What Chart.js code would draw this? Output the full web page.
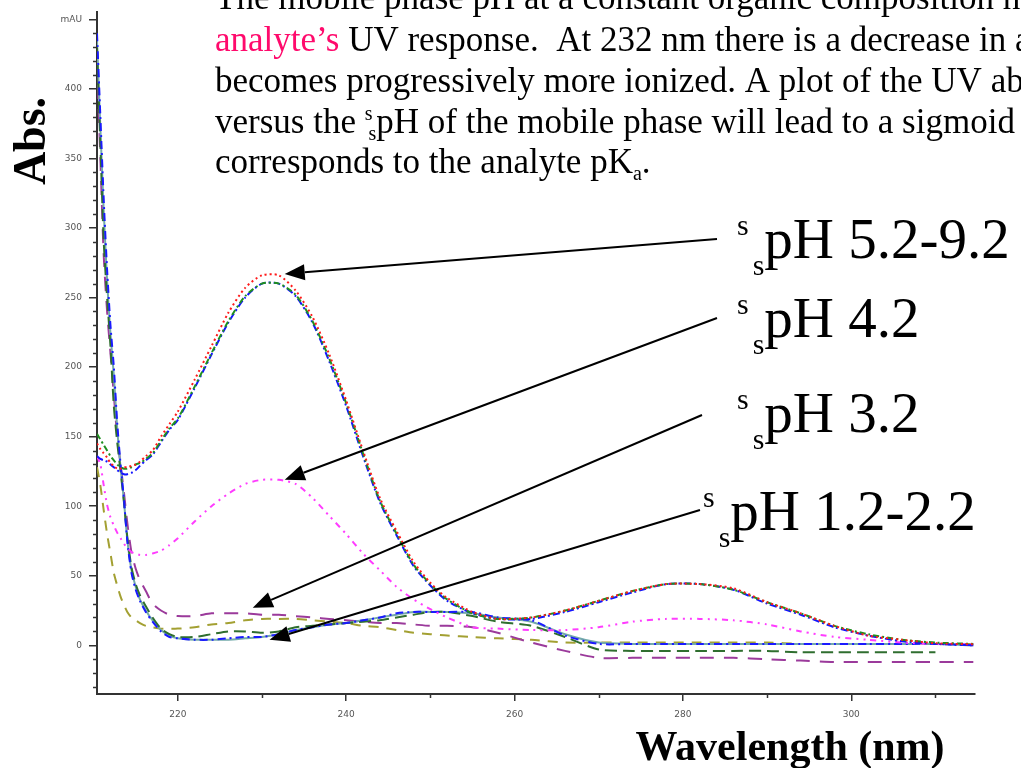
<!DOCTYPE html>
<html>
<head>
<meta charset="utf-8">
<script src="https://cdn.jsdelivr.net/npm/chart.js@4.4.1/dist/chart.umd.min.js"></script>
<style>
  html, body { margin: 0; padding: 0; background: #fff; overflow: hidden; }
  #wrap { width: 1021px; height: 768px; position: relative; }
</style>
</head>
<body>
<div id="wrap"><canvas id="uvChart" width="1021" height="768"></canvas></div>
<script>
// Wavelength grid (nm), finer at the short-wavelength end where the spectra fall steeply
const wavelengths = [
  210.4, 210.8, 211.2, 211.6, 212.0, 212.4, 212.8, 213.2, 213.6, 214.0,
  214.5, 215.0, 215.5, 216.2, 217, 218, 219, 220, 222, 224,
  226, 228, 230, 232, 234, 236, 238, 240, 242, 244,
  246, 248, 250, 252, 255, 258, 262, 266, 270, 274,
  278, 282, 286, 290, 294, 298, 302, 306, 310, 314.5
];

// Absorbance (mAU) for each run
const absRed = [
  145, 141, 138, 135, 131, 129, 127, 127, 128, 128,
  129, 130, 132, 136, 140, 150, 159, 168, 191, 215,
  239, 257, 266, 266, 255, 236, 209, 176, 140, 106,
  82, 60, 45, 34, 24, 19, 20, 25, 32, 39,
  44, 44, 41, 31, 23, 14, 7, 4, 1.5, 0.7
];
const absGreenHigh = [
  152, 148, 144, 140, 136, 133, 130, 128, 127, 127,
  128, 130, 131, 134, 138, 147, 156, 163, 186, 210,
  233, 251, 260, 260, 252, 233, 206, 174, 138, 104,
  80, 58, 44, 33, 23, 19, 20, 25, 32, 39,
  44, 44, 40, 31, 23, 14, 8, 4, 2, 1
];
const absBlueHigh = [
  136, 134, 133, 132, 130, 128, 126, 124, 123, 123,
  124, 126, 129, 133, 137, 146, 155, 162, 185, 209,
  232, 250, 260, 260, 251, 232, 204, 172, 136, 103,
  79, 57, 43, 32, 23, 19, 19, 24, 31, 38,
  44, 44, 40, 30, 22, 13, 7, 3, 1, 0
];
const absMagenta = [
  136, 130, 115, 101, 92, 86, 81, 77, 73, 70,
  67, 66, 65, 65, 66, 68, 72, 77, 89, 100,
  109, 116, 119, 119, 116, 106, 93, 80, 66, 54,
  42, 33, 26, 20, 13, 12, 11, 11, 13, 17,
  19, 19, 18, 15, 10, 6, 4, 2, 1, 1
];
const absPurple = [
  420, 350, 280, 240, 210, 180, 150, 130, 110, 88,
  67, 55, 47, 39, 30, 25, 22, 21, 21, 23,
  23, 23, 22, 22, 21, 20, 19, 18, 17, 16,
  16, 15, 14, 14, 13, 9, 2, -4, -9, -9,
  -9, -9, -9, -10, -11, -12, -12, -12, -12, -12
];
const absOlive = [
  128, 115, 97, 80, 66, 52, 43, 35, 29, 24,
  20, 18, 16, 14, 13, 12, 12, 12, 13, 15,
  16, 18, 19, 19, 19, 18, 17, 16, 14, 13,
  11, 9, 8, 7, 6, 5, 4, 2, 2, 2,
  2, 2, 2, 2, 1, 1, 1, 1, 1, 1
];
const absGreenLow = [
  430, 360, 290, 250, 215, 172, 146, 125, 103, 78,
  56, 44, 36, 28, 20, 12, 8, 6, 6, 8,
  10, 10, 9, 10, 13, 14, 15, 16, 17, 18,
  20, 22, 24, 24, 21, 17, 14, 6, -3, -4,
  -4, -4, -4, -4, -5, -5, -5, -5, -5, null
];
const absBlueLow = [
  440, 380, 320, 270, 230, 200, 160, 130, 105, 75,
  52, 40, 32, 24, 17, 10, 6, 5, 4, 4,
  5, 6, 6, 8, 11, 13, 15, 16, 18, 20,
  23, 24, 24, 24, 24, 20, 18, 7, 1, 1,
  1, 1, 1, 1, 1, 1, 1, 1, 1, 0
];
const absTeal = [
  435, 372, 312, 262, 224, 194, 156, 128, 104, 76,
  54, 42, 33, 25, 18, 11, 7, 5, 4, 4,
  4, 5, 6, 8, 11, 13, 15, 16, 18, 20,
  22, 24, 24, 24, 23, 20, 17, 8, 2, 1,
  1, 1, 1, 1, 1, 1, 1, 1, 1, 0
];

const yTickValues = [0, 50, 100, 150, 200, 250, 300, 350, 400, 450];
const xTickValues = [220, 240, 260, 280, 300];

function series(values) {
  return wavelengths.map((w, i) => ({ x: w, y: values[i] }));
}

function line(label, values, color, dash, width) {
  return {
    label: label,
    data: series(values),
    borderColor: color,
    borderWidth: width || 2,
    borderDash: dash,
    pointRadius: 0,
    fill: false,
    tension: 0.25,
    spanGaps: false
  };
}

// Minor ticks, slide text, axis titles and the arrows pointing at the curves
const slideOverlay = {
  id: 'slideOverlay',
  afterDraw(chart) {
    const ctx = chart.ctx;
    const xs = chart.scales.x;
    const ys = chart.scales.y;
    const area = chart.chartArea;

    ctx.save();
    ctx.strokeStyle = '#333';
    ctx.lineWidth = 1.5;
    // minor y ticks every 10 mAU
    for (let v = -30; v <= 450; v += 10) {
      if (v % 50 === 0) continue;
      const y = Math.round(ys.getPixelForValue(v)) + 0.5;
      ctx.beginPath();
      ctx.moveTo(area.left - 4, y);
      ctx.lineTo(area.left, y);
      ctx.stroke();
    }
    // minor x ticks every 20 nm between labels
    for (let w = 230; w <= 310; w += 20) {
      const x = Math.round(xs.getPixelForValue(w)) + 0.5;
      ctx.beginPath();
      ctx.moveTo(x, area.bottom);
      ctx.lineTo(x, area.bottom + 4);
      ctx.stroke();
    }
    ctx.restore();

    const serif = '"Liberation Serif", "Times New Roman", serif';

    // draw a line of text made of runs: {t, size, color, dy, bold}
    function runs(x, baseline, parts) {
      let cx = x;
      parts.forEach(p => {
        ctx.font = (p.bold ? 'bold ' : '') + p.size + 'px ' + serif;
        ctx.fillStyle = p.color || '#000';
        ctx.textBaseline = 'alphabetic';
        ctx.textAlign = 'left';
        ctx.fillText(p.t, cx, baseline + (p.dy || 0));
        cx += ctx.measureText(p.t).width + (p.gap || 0);
      });
    }

    ctx.save();
    const fs = 35;
    const px = 215;
    runs(px, 9, [{ t: 'The mobile phase pH at a constant organic composition h', size: fs }]);
    runs(px, 51, [
      { t: 'analyte\u2019s', size: fs, color: '#ff0a6c' },
      { t: ' UV response.  At 232 nm there is a decrease in a', size: fs }
    ]);
    runs(px, 92, [{ t: 'becomes progressively more ionized. A plot of the UV ab', size: fs }]);
    runs(px, 133, [
      { t: 'versus the ', size: fs },
      { t: 's', size: 20, dy: -13, gap: -4 },
      { t: 's', size: 20, dy: 7 },
      { t: 'pH of the mobile phase will lead to a sigmoid', size: fs }
    ]);
    runs(px, 173, [
      { t: 'corresponds to the analyte pK', size: fs },
      { t: 'a', size: 20, dy: 7 },
      { t: '.', size: fs }
    ]);

    // arrow labels
    const labels = [
      { x: 737, base: 258, text: 'pH 5.2-9.2' },
      { x: 737, base: 337, text: 'pH 4.2' },
      { x: 737, base: 432, text: 'pH 3.2' },
      { x: 703, base: 530, text: 'pH 1.2-2.2' }
    ];
    labels.forEach(l => {
      runs(l.x, l.base, [
        { t: 's', size: 30, dy: -23, gap: 4 },
        { t: 's', size: 30, dy: 17 },
        { t: l.text, size: 57 }
      ]);
    });

    // axis titles
    ctx.font = 'bold 46px ' + serif;
    ctx.fillStyle = '#000';
    ctx.textAlign = 'center';
    ctx.textBaseline = 'alphabetic';
    ctx.save();
    ctx.translate(45, 141);
    ctx.rotate(-Math.PI / 2);
    ctx.fillText('Abs.', 0, 0);
    ctx.restore();

    ctx.font = 'bold 42px ' + serif;
    ctx.fillText('Wavelength (nm)', 790, 760);
    ctx.restore();

    // arrows: tail near the label, head on the curve
    const arrows = [
      { from: [717, 239], nm: 232.7, abs: 267 },
      { from: [717, 318], nm: 232.7, abs: 119 },
      { from: [702, 415], nm: 228.9, abs: 27 },
      { from: [700, 510], nm: 230.9, abs: 4 }
    ];
    ctx.save();
    ctx.strokeStyle = '#000';
    ctx.fillStyle = '#000';
    ctx.lineWidth = 2;
    arrows.forEach(a => {
      const tx = xs.getPixelForValue(a.nm);
      const ty = ys.getPixelForValue(a.abs);
      const ang = Math.atan2(ty - a.from[1], tx - a.from[0]);
      const len = 20, half = 8;
      const bx = tx - Math.cos(ang) * len;
      const by = ty - Math.sin(ang) * len;
      ctx.beginPath();
      ctx.moveTo(a.from[0], a.from[1]);
      ctx.lineTo(bx, by);
      ctx.stroke();
      ctx.beginPath();
      ctx.moveTo(tx, ty);
      ctx.lineTo(bx + Math.sin(ang) * half, by - Math.cos(ang) * half);
      ctx.lineTo(bx - Math.sin(ang) * half, by + Math.cos(ang) * half);
      ctx.closePath();
      ctx.fill();
    });
    ctx.restore();
  }
};

new Chart(document.getElementById('uvChart').getContext('2d'), {
  type: 'line',
  data: {
    datasets: [
      line('Red', absRed, '#ff1a1a', [2, 3]),
      line('Green (high)', absGreenHigh, '#1f8f1f', [6, 3, 2, 3]),
      line('Blue (high)', absBlueHigh, '#1414ff', [7, 3, 2, 3]),
      line('Magenta', absMagenta, '#ff3cff', [6, 5, 2, 5, 2, 5]),
      line('Blue (low)', absBlueLow, '#1a1aff', [8, 4, 2, 4]),
      line('Green (low)', absGreenLow, '#2f6e2f', [12, 6]),
      line('Teal', absTeal, '#74aaaa', []),
      line('Purple', absPurple, '#9b3a9b', [14, 10]),
      line('Olive', absOlive, '#a3a032', [10, 8])
    ]
  },
  options: {
    responsive: false,
    animation: false,
    events: [],
    layout: { padding: { left: 0, top: 9, right: 46, bottom: 0 } },
    plugins: {
      legend: { display: false },
      tooltip: { enabled: false }
    },
    scales: {
      x: {
        type: 'linear',
        min: 210.4,
        max: 314.7,
        afterFit(scale) { scale.height = 74; },
        afterBuildTicks(scale) { scale.ticks = xTickValues.map(v => ({ value: v })); },
        ticks: {
          includeBounds: false,
          padding: 8,
          maxRotation: 0,
          color: '#555',
          font: { family: 'DejaVu Sans', size: 9 },
          callback: v => String(v)
        },
        grid: { drawOnChartArea: false, drawTicks: true, tickLength: 7, color: '#333', lineWidth: 1.5 },
        border: { display: true, color: '#333', width: 2 }
      },
      y: {
        type: 'linear',
        min: -35,
        max: 455,
        afterFit(scale) { scale.width = 97; },
        afterBuildTicks(scale) { scale.ticks = yTickValues.map(v => ({ value: v })); },
        ticks: {
          includeBounds: false,
          padding: 7,
          color: '#555',
          font: { family: 'DejaVu Sans', size: 9 },
          callback: v => (v === 450 ? 'mAU' : String(v))
        },
        grid: { drawOnChartArea: false, drawTicks: true, tickLength: 8, color: '#333', lineWidth: 1.5 },
        border: { display: true, color: '#333', width: 2 }
      }
    }
  },
  plugins: [slideOverlay]
});
</script>
</body>
</html>
